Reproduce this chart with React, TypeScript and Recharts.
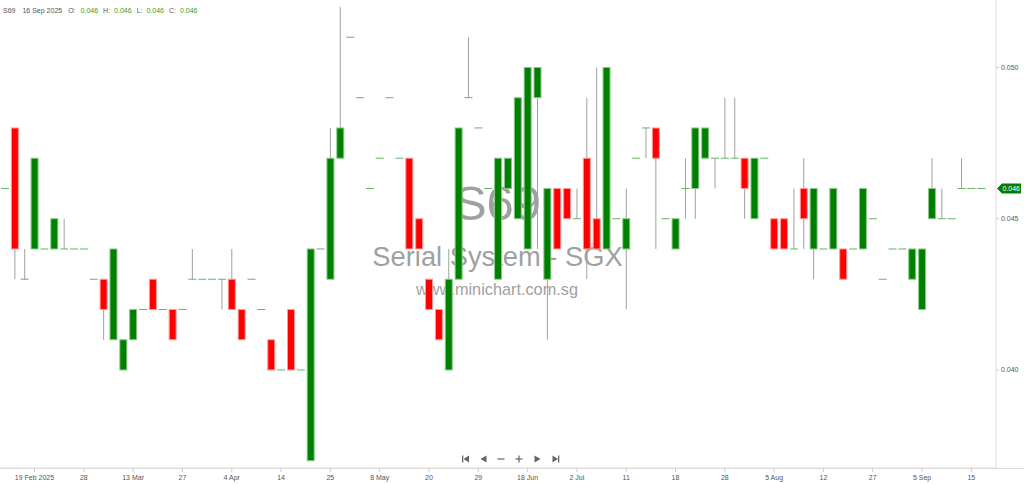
import React from "react";
import {
  ComposedChart,
  Bar,
  XAxis,
  YAxis,
  ReferenceLine,
  Customized,
} from "recharts";

// ---- data (prices in SGD) ----
const opens = [
  0.046, 0.048, 0.043, 0.044, 0.044, 0.044, 0.044, 0.044, 0.044, 0.043,
  0.043, 0.041, 0.04, 0.041, 0.042, 0.043, 0.042, 0.042, 0.042, 0.043,
  0.043, 0.043, 0.043, 0.043, 0.042, 0.043, 0.042, 0.041, 0.04, 0.042,
  0.04, 0.037, 0.044, 0.043, 0.047, 0.051, 0.049, 0.046, 0.047, 0.049,
  0.047, 0.047, 0.045, 0.043, 0.042, 0.04, 0.043, 0.049, 0.048, 0.046,
  0.043, 0.046, 0.045, 0.044, 0.049, 0.043, 0.046, 0.046, 0.045, 0.047,
  0.045, 0.044, 0.045, 0.044, 0.047, 0.048, 0.048, 0.045, 0.044, 0.046,
  0.046, 0.047, 0.047, 0.047, 0.047, 0.047, 0.045, 0.047, 0.045, 0.045,
  0.044, 0.046, 0.044, 0.044, 0.044, 0.044, 0.044, 0.044, 0.045, 0.043,
  0.044, 0.044, 0.043, 0.042, 0.045, 0.045, 0.045, 0.046, 0.046, 0.046,
];
const highs = [
  0.046, 0.048, 0.044, 0.047, 0.044, 0.045, 0.045, 0.044, 0.044, 0.043,
  0.043, 0.044, 0.041, 0.042, 0.042, 0.043, 0.042, 0.042, 0.042, 0.044,
  0.043, 0.043, 0.043, 0.044, 0.042, 0.043, 0.042, 0.041, 0.04, 0.042,
  0.04, 0.044, 0.044, 0.048, 0.052, 0.051, 0.049, 0.046, 0.047, 0.049,
  0.047, 0.047, 0.045, 0.043, 0.042, 0.044, 0.048, 0.051, 0.048, 0.046,
  0.047, 0.047, 0.049, 0.05, 0.05, 0.046, 0.046, 0.046, 0.046, 0.049,
  0.05, 0.05, 0.045, 0.046, 0.047, 0.048, 0.048, 0.045, 0.045, 0.047,
  0.048, 0.048, 0.047, 0.049, 0.049, 0.047, 0.047, 0.047, 0.045, 0.045,
  0.046, 0.047, 0.046, 0.044, 0.046, 0.044, 0.044, 0.046, 0.045, 0.043,
  0.044, 0.044, 0.044, 0.044, 0.047, 0.046, 0.045, 0.047, 0.046, 0.046,
];
const lows = [
  0.046, 0.043, 0.043, 0.044, 0.044, 0.044, 0.044, 0.044, 0.044, 0.043,
  0.041, 0.041, 0.04, 0.041, 0.042, 0.042, 0.042, 0.041, 0.042, 0.043,
  0.043, 0.043, 0.042, 0.042, 0.041, 0.043, 0.042, 0.04, 0.04, 0.04,
  0.04, 0.037, 0.044, 0.043, 0.047, 0.051, 0.049, 0.046, 0.047, 0.049,
  0.047, 0.044, 0.044, 0.042, 0.041, 0.04, 0.043, 0.049, 0.048, 0.046,
  0.043, 0.046, 0.045, 0.044, 0.044, 0.041, 0.044, 0.045, 0.045, 0.043,
  0.044, 0.044, 0.045, 0.042, 0.047, 0.047, 0.044, 0.045, 0.044, 0.045,
  0.045, 0.047, 0.046, 0.047, 0.047, 0.045, 0.045, 0.047, 0.044, 0.044,
  0.044, 0.044, 0.043, 0.044, 0.044, 0.043, 0.044, 0.044, 0.045, 0.043,
  0.044, 0.044, 0.043, 0.042, 0.045, 0.045, 0.045, 0.046, 0.046, 0.046,
];
const closes = [
  0.046, 0.044, 0.043, 0.047, 0.044, 0.045, 0.044, 0.044, 0.044, 0.043,
  0.042, 0.044, 0.041, 0.042, 0.042, 0.042, 0.042, 0.041, 0.042, 0.043,
  0.043, 0.043, 0.043, 0.042, 0.041, 0.043, 0.042, 0.04, 0.04, 0.04,
  0.04, 0.044, 0.044, 0.047, 0.048, 0.051, 0.049, 0.046, 0.047, 0.049,
  0.047, 0.044, 0.044, 0.042, 0.041, 0.043, 0.048, 0.049, 0.048, 0.046,
  0.047, 0.047, 0.049, 0.05, 0.05, 0.046, 0.044, 0.045, 0.045, 0.044,
  0.044, 0.05, 0.045, 0.045, 0.047, 0.048, 0.047, 0.045, 0.045, 0.046,
  0.048, 0.048, 0.047, 0.047, 0.047, 0.046, 0.047, 0.047, 0.044, 0.044,
  0.044, 0.045, 0.046, 0.044, 0.046, 0.043, 0.044, 0.046, 0.045, 0.043,
  0.044, 0.044, 0.044, 0.044, 0.046, 0.045, 0.045, 0.046, 0.046, 0.046,
];

// x-axis labels: candle index -> label
const tickIndices = [3, 8, 13, 18, 23, 28, 33, 38, 43, 48, 53, 58, 63, 68, 73, 78, 83, 88, 93, 98];
const tickLabels = [
  "19 Feb 2025", "28", "13 Mar", "27", "4 Apr", "14", "25", "8 May", "20", "29",
  "18 Jun", "2 Jul", "11", "18", "28", "5 Aug", "12", "27", "5 Sep", "15",
];
const yTicks = [0.04, 0.045, 0.05];

const symbol = "S69";
const lastDate = "16 Sep 2025";
const companyName = "Serial System - SGX";
const site = "www.minichart.com.sg";

// table for recharts: one empty trailing slot on the right edge
const data = [
  ...opens.map((o, i) => ({
    i,
    open: o,
    high: highs[i],
    low: lows[i],
    close: closes[i],
  })),
  { i: opens.length, open: null, high: null, low: null, close: null },
];

const last = opens.length - 1;
const FONT = "'Liberation Sans', Arial, sans-serif";
const GREEN = "#008000";
const RED = "#ff0000";

const Candle = (props: any) => {
  const { x, y, width, height, payload } = props;
  if (!payload || payload.high == null) return null;
  const { open, high, low, close } = payload;
  const span = high - low;
  const k = span > 0 ? height / span : 0;
  const yOf = (v: number) => y + (high - v) * k;
  const cx = x + width / 2;
  const els: React.ReactNode[] = [];
  if (span > 0) {
    els.push(
      <line key="w" x1={cx} x2={cx} y1={yOf(high)} y2={yOf(low)} stroke="#a0a0a0" strokeWidth={1} />
    );
  }
  if (open !== close) {
    const up = close > open;
    const top = yOf(Math.max(open, close));
    const bot = yOf(Math.min(open, close));
    els.push(
      <rect
        key="b"
        x={x + 0.5}
        y={top}
        width={width - 1}
        height={bot - top}
        fill={up ? GREEN : RED}
        stroke={up ? "#8cc98c" : "#ff9a9a"}
        strokeWidth={1}
      />
    );
  } else {
    els.push(
      <line
        key="d"
        x1={x}
        x2={x + width}
        y1={yOf(open)}
        y2={yOf(open)}
        stroke="#62b562"
        strokeWidth={1}
      />
    );
  }
  return <g>{els}</g>;
};

const XTick = (props: any) => {
  const { x, y, payload } = props;
  const idx = tickIndices.indexOf(payload.value);
  if (idx < 0) return null;
  return (
    <g>
      <line x1={x} x2={x} y1={y - 5} y2={y - 1} stroke="#cccccc" />
      <text x={x} y={y + 7} textAnchor="middle" fontSize={7} fill="#555555" fontFamily={FONT}>
        {tickLabels[idx]}
      </text>
    </g>
  );
};

const PriceTag = (props: any) => {
  const vb = props.viewBox || {};
  const x0 = vb.x + vb.width;
  const yc = vb.y;
  return (
    <g>
      <polygon
        points={`${x0 + 1},${yc} ${x0 + 6},${yc - 5} ${x0 + 25},${yc - 5} ${x0 + 25},${yc + 5} ${x0 + 6},${yc + 5}`}
        fill={GREEN}
      />
      <text x={x0 + 6.5} y={yc + 2.5} fontSize={7} fill="#fff" fontFamily={FONT}>
        {closes[last].toFixed(3)}
      </text>
    </g>
  );
};

const Watermark = () => (
  <g fill="#a0a0a0" fontFamily={FONT} textAnchor="middle">
    <text x={497.5} y={220} fontSize={49}>{symbol}</text>
    <text x={497.5} y={266} fontSize={27.3}>{companyName}</text>
    <text x={497} y={295} fontSize={16.3}>{site}</text>
  </g>
);

const Overlay = () => {
  const g = "#2e9e2e";
  const lab = "#555";
  const nav = "#666";
  const ny = 459;
  return (
    <g>
      {/* full-width bottom rule */}
      <line x1={0} x2={1024} y1={468.5} y2={468.5} stroke="#dddddd" />
      {/* header */}
      <text x={3} y={12.5} fontSize={7} fontFamily={FONT} fill={lab}>
        <tspan>{symbol}</tspan>
        <tspan dx={7}>{lastDate}</tspan>
        <tspan dx={6}>O:</tspan>
        <tspan dx={5} fill={g}>{opens[last].toFixed(3)}</tspan>
        <tspan dx={5}>H:</tspan>
        <tspan dx={4} fill={g}>{highs[last].toFixed(3)}</tspan>
        <tspan dx={5}>L:</tspan>
        <tspan dx={4} fill={g}>{lows[last].toFixed(3)}</tspan>
        <tspan dx={5}>C:</tspan>
        <tspan dx={4} fill={g}>{closes[last].toFixed(3)}</tspan>
      </text>
      {/* navigation icons */}
      <g fill={nav} stroke="none">
        <rect x={462} y={ny - 3.5} width={1.3} height={7} />
        <polygon points={`${463.5},${ny} ${469},${ny - 3.5} ${469},${ny + 3.5}`} />
        <polygon points={`${480.5},${ny} ${486.5},${ny - 3.5} ${486.5},${ny + 3.5}`} />
        <rect x={497.5} y={ny - 0.6} width={7} height={1.2} />
        <rect x={515.5} y={ny - 0.6} width={7} height={1.2} />
        <rect x={518.4} y={ny - 3.5} width={1.2} height={7} />
        <polygon points={`${540.5},${ny} ${534.5},${ny - 3.5} ${534.5},${ny + 3.5}`} />
        <polygon points={`${558},${ny} ${552.5},${ny - 3.5} ${552.5},${ny + 3.5}`} />
        <rect x={558} y={ny - 3.5} width={1.3} height={7} />
      </g>
    </g>
  );
};

export default function App() {
  return (
    <div style={{ position: "absolute", left: 0, top: 0, width: 1024, height: 484, background: "#fff" }}>
      <ComposedChart
        width={1024}
        height={484}
        data={data}
        margin={{ top: 0, right: 0, bottom: 0, left: 0 }}
        barCategoryGap={0}
      >
        <Customized component={Watermark} />
        <XAxis
          dataKey="i"
          type="category"
          height={16}
          interval={0}
          tickLine={false}
          tickSize={4}
          tickMargin={1}
          axisLine={{ stroke: "#dddddd" }}
          tick={<XTick />}
        />
        <YAxis
          orientation="right"
          width={28}
          domain={[0.03676, 0.05223]}
          allowDataOverflow
          ticks={yTicks}
          tickFormatter={(v: number) => v.toFixed(3)}
          tick={{ fontSize: 7, fill: "#555555", fontFamily: FONT }}
          tickSize={3}
          tickMargin={2}
          tickLine={{ stroke: "#cccccc" }}
          axisLine={{ stroke: "#dddddd" }}
        />
        <Bar
          dataKey={(d: any) => (d.high == null ? null : [d.low, d.high])}
          barSize={8}
          shape={<Candle />}
          isAnimationActive={false}
        />
        <ReferenceLine
          y={closes[last]}
          stroke="none"
          ifOverflow="visible"
          label={<PriceTag />}
        />
        <Customized component={Overlay} />
      </ComposedChart>
    </div>
  );
}
